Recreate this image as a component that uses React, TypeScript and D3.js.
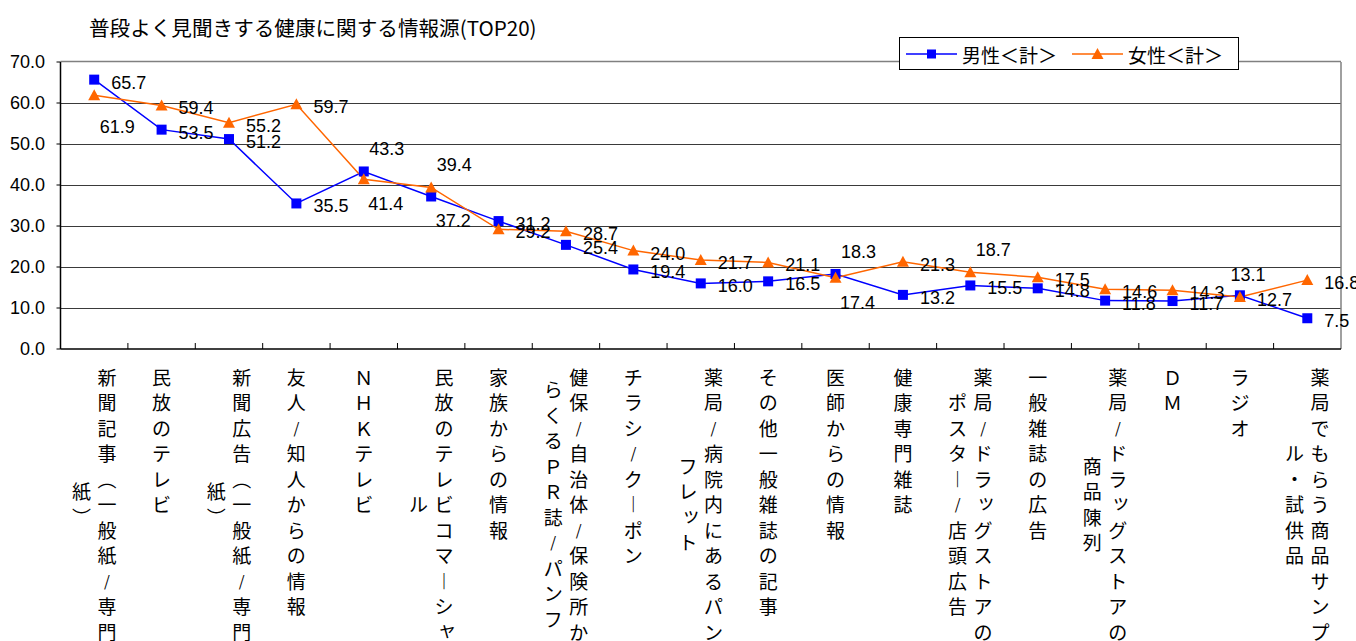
import React from 'react';
import * as d3 from 'd3';

const title = '普段よく見聞きする健康に関する情報源(TOP20)';

const categories = [
  '新聞記事（一般紙／専門紙）',
  '民放のテレビ',
  '新聞広告（一般紙／専門紙）',
  '友人／知人からの情報',
  'ＮＨＫテレビ',
  '民放のテレビコマーシャル',
  '家族からの情報',
  '健保／自治体／保険所からくるＰＲ誌／パンフ',
  'チラシ／クーポン',
  '薬局／病院内にあるパンフレット',
  'その他一般雑誌の記事',
  '医師からの情報',
  '健康専門雑誌',
  '薬局／ドラッグストアのポスター／店頭広告',
  '一般雑誌の広告',
  '薬局／ドラッグストアの商品陳列',
  'ＤＭ',
  'ラジオ',
  '薬局でもらう商品サンプル・試供品',
];

const maleValues = [65.7, 53.5, 51.2, 35.5, 43.3, 37.2, 31.2, 25.4, 19.4, 16.0, 16.5, 18.3, 13.2, 15.5, 14.8, 11.8, 11.7, 13.1, 7.5];
const femaleValues = [61.9, 59.4, 55.2, 59.7, 41.4, 39.4, 29.2, 28.7, 24.0, 21.7, 21.1, 17.4, 21.3, 18.7, 17.5, 14.6, 14.3, 12.7, 16.8];

const seriesNames = ['男性＜計＞', '女性＜計＞'];
const yTicks = [0, 10, 20, 30, 40, 50, 60, 70];

// where each data label sits next to its point (r = right, a = above, b = below)
const maleLabelPos = ['r', 'r', 'r', 'r', 'a', 'b', 'r', 'r', 'r', 'r', 'r', 'a', 'r', 'r', 'r', 'r', 'r', 'aa', 'r'];
const femaleLabelPos = ['bb', 'r', 'r', 'r', 'b', 'a', 'r', 'r', 'r', 'r', 'r', 'b', 'r', 'a', 'r', 'r', 'r', 'r', 'r'];

const W = 1356;
const H = 641;
const margin = { left: 60.5, right: 1341, top: 62, bottom: 349 };

const BLUE = '#0000ff';
const ORANGE = '#ff6600';
const numFont = '"Liberation Sans", Arial, sans-serif';
const jpFont = '"Noto Sans CJK JP", "Noto Sans", sans-serif';

const offsets: Record<string, { dx: number; dy: number; anchor: string }> = {
  r: { dx: 17, dy: 3, anchor: 'start' },
  a: { dx: 23, dy: -22, anchor: 'middle' },
  aa: { dx: 8, dy: -20, anchor: 'middle' },
  b: { dx: 22, dy: 25, anchor: 'middle' },
  bb: { dx: 23, dy: 32, anchor: 'middle' },
};

// vertical-writing glyph substitutions
const verticalForms: Record<string, string> = {
  '（': '︵',
  '）': '︶',
  'ー': '︱',
  '／': '/',
};
const smallKana = 'ッャュョァィゥェォっゃゅょ';

const COL_CHARS = 11;
const STEP = 25.5;

function splitColumns(label: string) {
  const chars = Array.from(label);
  const cols: string[][] = [];
  for (let i = 0; i < chars.length; i += COL_CHARS) cols.push(chars.slice(i, i + COL_CHARS));
  return cols;
}

const Square = ({ x, y, color }: { x: number; y: number; color: string }) => (
  <rect x={x - 5} y={y - 5} width={10} height={10} fill={color} />
);

const Triangle = ({ x, y, color }: { x: number; y: number; color: string }) => (
  <path d={`M${x},${y - 6}L${x + 6},${y + 5}L${x - 6},${y + 5}Z`} fill={color} />
);

export default function App() {
  const x = d3
    .scaleBand<string>()
    .domain(categories)
    .range([margin.left, margin.right]);
  const cx = (i: number) => (x(categories[i]) ?? 0) + x.bandwidth() / 2;

  const y = d3.scaleLinear().domain([0, 70]).range([margin.bottom, margin.top]);

  const line = d3
    .line<number>()
    .x((_, i) => cx(i))
    .y((d) => y(d));

  const renderLabels = (values: number[], pos: string[], key: string) =>
    values.map((v, i) => {
      const o = offsets[pos[i]];
      return (
        <text
          key={`${key}-${i}`}
          x={cx(i) + o.dx}
          y={y(v) + o.dy}
          textAnchor={o.anchor}
          dominantBaseline="central"
          fontFamily={numFont}
          fontSize={18}
          fill="#000"
        >
          {v.toFixed(1)}
        </text>
      );
    });

  return (
    <svg
      width={W}
      height={H}
      style={{ position: 'absolute', left: 0, top: 0, background: '#fff' }}
    >
      <text x={89} y={27} fontFamily={jpFont} fontSize={20.6} dominantBaseline="central" fill="#000">
        {title}
      </text>

      {/* grid */}
      {yTicks.slice(1, -1).map((t) => (
        <line key={t} x1={margin.left} x2={margin.right} y1={Math.round(y(t)) + 0.5} y2={Math.round(y(t)) + 0.5} stroke="#3a3a3a" strokeWidth={1} />
      ))}
      <line x1={margin.left} x2={margin.right} y1={margin.top - 0.5} y2={margin.top - 0.5} stroke="#808080" strokeWidth={1.5} />
      <line x1={margin.right} x2={margin.right} y1={margin.top} y2={margin.bottom} stroke="#808080" strokeWidth={1.5} />

      {/* axes */}
      <line x1={margin.left} x2={margin.left} y1={margin.top} y2={margin.bottom} stroke="#000" strokeWidth={1.5} />
      <line x1={margin.left} x2={margin.right} y1={margin.bottom} y2={margin.bottom} stroke="#000" strokeWidth={1.5} />
      {yTicks.map((t) => (
        <g key={t}>
          <line x1={margin.left - 4} x2={margin.left} y1={y(t)} y2={y(t)} stroke="#000" />
          <text x={45} y={y(t)} textAnchor="end" dominantBaseline="central" fontFamily={numFont} fontSize={18} fill="#000">
            {t.toFixed(1)}
          </text>
        </g>
      ))}
      {categories.slice(1).map((c) => (
        <line key={c} x1={x(c)} x2={x(c)} y1={margin.bottom - 6} y2={margin.bottom} stroke="#000" />
      ))}

      {/* category labels, stacked vertically */}
      {categories.map((c, i) => {
        const cols = splitColumns(c);
        const n1 = cols[0].length;
        return cols.map((col, k) => {
          const colX = cx(i) + ((cols.length - 1) / 2 - k) * STEP;
          const startY = 376 + ((n1 - col.length) / 2) * STEP;
          return col.map((ch, j) => {
            const small = smallKana.includes(ch);
            const isSlash = ch === '／';
            return (
              <text
                key={`${i}-${k}-${j}`}
                x={colX + (small ? 3 : 0)}
                y={startY + j * STEP - (small ? 3 : 0)}
                textAnchor="middle"
                dominantBaseline="central"
                fontFamily={jpFont}
                fontSize={isSlash ? 15 : 19}
                fill="#000"
              >
                {verticalForms[ch] ?? ch}
              </text>
            );
          });
        });
      })}

      {/* series */}
      <path d={line(maleValues) ?? ''} fill="none" stroke={BLUE} strokeWidth={1.5} />
      <path d={line(femaleValues) ?? ''} fill="none" stroke={ORANGE} strokeWidth={1.5} />
      {maleValues.map((v, i) => (
        <Square key={`m${i}`} x={cx(i)} y={y(v)} color={BLUE} />
      ))}
      {femaleValues.map((v, i) => (
        <Triangle key={`f${i}`} x={cx(i)} y={y(v)} color={ORANGE} />
      ))}
      {renderLabels(maleValues, maleLabelPos, 'ml')}
      {renderLabels(femaleValues, femaleLabelPos, 'fl')}

      {/* legend */}
      <g>
        <rect x={899.5} y={37.5} width={339} height={32} fill="#fff" stroke="#000" strokeWidth={1} />
        <line x1={906} x2={957} y1={54} y2={54} stroke={BLUE} strokeWidth={1.5} />
        <rect x={927} y={49.5} width={9} height={9} fill={BLUE} />
        <text x={962} y={54} dominantBaseline="central" fontFamily={jpFont} fontSize={19} fill="#000">
          {seriesNames[0]}
        </text>
        <line x1={1072} x2={1123} y1={54} y2={54} stroke={ORANGE} strokeWidth={1.5} />
        <Triangle x={1097.5} y={54} color={ORANGE} />
        <text x={1128} y={54} dominantBaseline="central" fontFamily={jpFont} fontSize={19} fill="#000">
          {seriesNames[1]}
        </text>
      </g>
    </svg>
  );
}
